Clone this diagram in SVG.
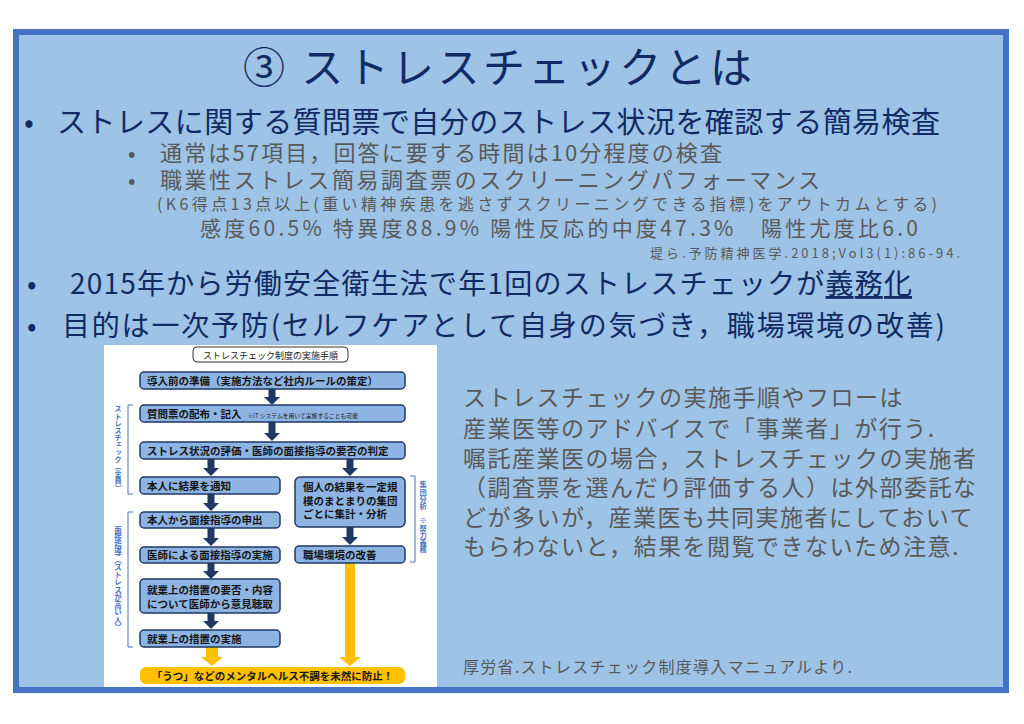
<svg xmlns="http://www.w3.org/2000/svg" width="1024" height="724" viewBox="0 0 1024 724">
<defs>
<style>
.jp{font-family:"Noto Sans CJK JP","Noto Sans",sans-serif}
.navy{fill:#102A63}
.gray{fill:#595959}
.box{fill:#8EB4E3;stroke:#1F3864;stroke-width:1.5}
.bt{font-family:"Noto Sans CJK JP","Noto Sans",sans-serif;font-weight:700;font-size:10.5px;fill:#141414}
.arr{fill:#1F3864}
.yarr{fill:#FFC000}
.side{font-family:"Noto Sans CJK JP","Noto Sans",sans-serif;font-weight:700;fill:#4472C4;writing-mode:vertical-rl}
.brk{fill:none;stroke:#4472C4;stroke-width:1}
.rt{font-size:23px;letter-spacing:1.5px}
</style>
</defs>
<rect x="0" y="0" width="1024" height="724" fill="#FFFFFF"/>
<rect x="16" y="32" width="990" height="658" fill="#9DC3E6" stroke="#4472C4" stroke-width="6"/>

<g id="title">
<text class="jp navy" x="243" y="83" font-size="42" textLength="509">③ ストレスチェックとは</text>
</g>

<g id="bullets">
<text class="jp navy" x="24" y="133" font-size="29">•</text>
<text class="jp navy" x="57" y="133" font-size="29" textLength="883">ストレスに関する質問票で自分のストレス状況を確認する簡易検査</text>
<text class="jp gray" x="128" y="161" font-size="22">•</text>
<text class="jp gray" x="160" y="161" font-size="22" textLength="562">通常は57項目，回答に要する時間は10分程度の検査</text>
<text class="jp gray" x="128" y="188" font-size="22">•</text>
<text class="jp gray" x="160" y="188" font-size="22" textLength="660">職業性ストレス簡易調査票のスクリーニングパフォーマンス</text>
<text class="jp gray" x="157" y="210" font-size="16" textLength="780">(K6得点13点以上(重い精神疾患を逃さずスクリーニングできる指標)をアウトカムとする)</text>
<text class="jp gray" x="200" y="236" font-size="21" textLength="718">感度60.5% 特異度88.9% 陽性反応的中度47.3%　陽性尤度比6.0</text>
<text class="jp gray" x="650" y="258" font-size="13" textLength="310">堤ら.予防精神医学.2018;Vol3(1):86-94.</text>
<text class="jp navy" x="27" y="294" font-size="28">•</text>
<text class="jp navy" x="70" y="294" font-size="28" textLength="842">2015年から労働安全衛生法で年1回のストレスチェックが<tspan text-decoration="underline">義務化</tspan></text>
<text class="jp navy" x="27" y="336" font-size="28">•</text>
<text class="jp navy" x="62" y="336" font-size="28" textLength="883">目的は一次予防(セルフケアとして自身の気づき，職場環境の改善)</text>
</g>

<g id="note">
<text class="jp gray rt" x="463" y="406">ストレスチェックの実施手順やフローは</text>
<text class="jp gray rt" x="463" y="437">産業医等のアドバイスで「事業者」が行う.</text>
<text class="jp gray rt" x="463" y="467">嘱託産業医の場合，ストレスチェックの実施者</text>
<text class="jp gray rt" x="463" y="496">（調査票を選んだり評価する人）は外部委託な</text>
<text class="jp gray rt" x="463" y="526">どが多いが，産業医も共同実施者にしておいて</text>
<text class="jp gray rt" x="463" y="555">もらわないと，結果を閲覧できないため注意.</text>
<text class="jp gray" x="463" y="673" font-size="16" textLength="389">厚労省.ストレスチェック制度導入マニュアルより.</text>
</g>

<g id="flow-panel">
<rect x="104" y="345" width="333" height="342" fill="#FFFFFF"/>
<rect x="193" y="347" width="155" height="15" rx="4" fill="#FFFFFF" stroke="#333333" stroke-width="1"/>
<text class="jp" x="270.5" y="358.5" font-size="9" fill="#222222" text-anchor="middle">ストレスチェック制度の実施手順</text>
</g>

<g id="connectors">
<polygon class="arr" points="268.5,389 275.5,389 275.5,397 280,397 272,405 264,397 268.5,397"/>
<polygon class="arr" points="268.5,422 275.5,422 275.5,433 280,433 272,441 264,433 268.5,433"/>
<polygon class="arr" points="207.5,459 214.5,459 214.5,468 219,468 211,476 203,468 207.5,468"/>
<polygon class="arr" points="346.5,459 353.5,459 353.5,468 358,468 350,476 342,468 346.5,468"/>
<polygon class="arr" points="207.5,494 214.5,494 214.5,503 219,503 211,511 203,503 207.5,503"/>
<polygon class="arr" points="207.5,528 214.5,528 214.5,538 219,538 211,546 203,538 207.5,538"/>
<polygon class="arr" points="346.5,527 353.5,527 353.5,537 358,537 350,545 342,537 346.5,537"/>
<polygon class="arr" points="207.5,563 214.5,563 214.5,571 219,571 211,579 203,571 207.5,571"/>
<polygon class="arr" points="207.5,613 214.5,613 214.5,621 219,621 211,629 203,621 207.5,621"/>
<polygon class="yarr" points="206,647 218,647 218,657 223,657 212,666 201,657 206,657"/>
<polygon class="yarr" points="345,563 355,563 355,657 361,657 350,666 339,657 345,657"/>
</g>

<g id="n1"><rect class="box" x="140" y="372" width="265" height="17" rx="4"/><text class="bt" x="147" y="384.5">導入前の準備（実施方法など社内ルールの策定）</text></g>
<g id="n2"><rect class="box" x="140" y="405" width="265" height="17" rx="4"/><text class="bt" x="147" y="417.5">質問票の配布・記入<tspan font-size="5.8" font-weight="400" dx="6">※IT システムを用いて実施することも可能</tspan></text></g>
<g id="n3"><rect class="box" x="140" y="442" width="265" height="17" rx="4"/><text class="bt" x="147" y="454.5">ストレス状況の評価・医師の面接指導の要否の判定</text></g>
<g id="n4"><rect class="box" x="140" y="477" width="140" height="17" rx="4"/><text class="bt" x="147" y="489.5">本人に結果を通知</text></g>
<g id="n5"><rect class="box" x="295" y="477" width="110" height="50" rx="5"/><text class="bt" x="303" y="491">個人の結果を一定規</text><text class="bt" x="303" y="504.5">模のまとまりの集団</text><text class="bt" x="303" y="518">ごとに集計・分析</text></g>
<g id="n6"><rect class="box" x="140" y="512" width="140" height="16" rx="4"/><text class="bt" x="147" y="524">本人から面接指導の申出</text></g>
<g id="n7"><rect class="box" x="140" y="547" width="140" height="16" rx="4"/><text class="bt" x="147" y="559">医師による面接指導の実施</text></g>
<g id="n8"><rect class="box" x="295" y="546" width="110" height="17" rx="4"/><text class="bt" x="303" y="558.5">職場環境の改善</text></g>
<g id="n9"><rect class="box" x="140" y="579" width="140" height="34" rx="4"/><text class="bt" x="147" y="594">就業上の措置の要否・内容</text><text class="bt" x="147" y="607.5">について医師から意見聴取</text></g>
<g id="n10"><rect class="box" x="140" y="630" width="140" height="17" rx="4"/><text class="bt" x="147" y="642.5">就業上の措置の実施</text></g>
<g id="n11"><rect x="140" y="667" width="265" height="17" rx="6" fill="#FFC000"/><text class="bt" x="272.5" y="679.5" text-anchor="middle" fill="#222222">「うつ」などのメンタルヘルス不調を未然に防止！</text></g>

<g id="side-labels">
<path class="brk" d="M133,405 H128 V494 H133"/>
<text class="side" x="118" y="405" font-size="7.2">ストレスチェック（全員）</text>
<path class="brk" d="M133,512 H128 V647 H133"/>
<text class="side" x="118" y="526" font-size="7.5">面接指導（ストレスが高い人）</text>
<path class="brk" d="M410,476 H415 V562 H410"/>
<text class="side" x="423" y="481" font-size="7.2">集団分析　※努力義務</text>
</g>
</svg>
